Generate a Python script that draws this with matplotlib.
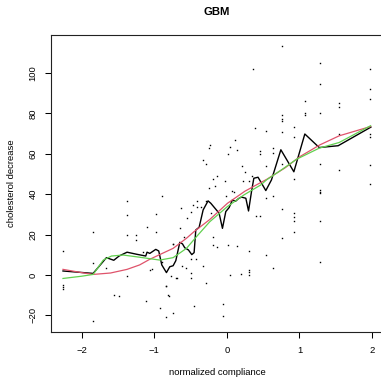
import matplotlib
matplotlib.use("Agg")
import matplotlib.pyplot as plt

# Observations: normalized compliance vs cholesterol decrease
obs_x = [
    -2.255, -2.255, -2.255, -2.255,
    -1.84, -1.84, -1.84, -1.657, -1.55, -1.48,
    -1.368, -1.368, -1.368, -1.368, -1.244, -1.244,
    -1.16, -1.10, -1.056, -1.033, -1.116,
    -0.974, -0.974, -0.889, -0.918, -0.886,
    -0.836, -0.836, -0.836, -0.803, -0.795, -0.739, -0.739, -0.762, -0.693,
    -0.629, -0.547, -0.487, -0.459, -0.417, -0.417, -0.358, -0.28,
    -0.647, -0.588, -0.739, -0.243, -0.161, 0.078, 0.096,
    -0.184, -0.134, -0.189, 0.023, 0.147, 0.307, 0.54,
    0.459, 0.40, 0.54, -0.211, -0.01,
    -0.616, -0.555, -0.492, -0.422, -0.331, -0.487, -0.487, -0.68, -0.285,
    0.045, 0.202, 0.307, 0.307, 0.307,
    -0.455, -0.051, -0.051,
    0.363, 0.39, 0.54, 0.115, -0.23, -0.24, 0.045, 0.142, 0.018, 0.459, 0.459,
    -0.326, -0.285, 0.211, 0.54, 0.252, -0.189, -0.134, -0.023, 0.225, 0.307, 0.348,
    0.629, 0.629, 0.629, 0.629,
    0.753, 0.753, 0.753, 0.753, 0.753, 0.753, 0.753, 0.753,
    0.927, 0.927, 0.927, 0.927, 0.927, 0.927, 0.927,
    1.078, 1.078, 1.078,
    1.285, 1.285, 1.285, 1.285, 1.285, 1.285, 1.285, 1.285, 1.285,
    1.547, 1.547, 1.547, 1.547,
    1.974, 1.974, 1.974, 1.974, 1.974, 1.974, 1.974,
]
obs_y = [
    11.7, -5.1, -6.1, -7.1,
    21.2, 5.8, -23.0, 3.3, -9.9, -10.4,
    36.5, 29.6, 19.7, -0.7, 19.7, 17.3,
    11.2, 24.0, 2.5, 2.8, -13.0,
    30.1, 21.2, 39.2, -16.5, 6.6,
    -5.4, -21.0, -5.6, -9.9, -10.2, -19.0, 15.5, -0.4, -1.3,
    33.0, 28.1, 31.1, 34.9, 36.6, 33.7, 33.6, 36.8,
    23.5, 18.7, 15.5, 43.0, 44.1, 41.8, 41.1,
    18.7, 13.7, 14.7, 14.7, 14.4, 11.7, 9.8,
    29.4, 29.4, 38.0, 30.6, 39.3,
    4.6, 3.5, 7.9, 7.9, 4.3, 0.8, -1.7, -1.5, -4.0,
    0.0, 0.7, 2.6, 1.3, 0.0,
    -15.5, -14.4, -20.3,
    102.0, 72.7, 71.2, 66.8, 64.3, 62.8, 63.3, 61.8, 59.8, 61.3, 60.0,
    56.8, 55.0, 53.9, 53.9, 51.0, 47.4, 48.9, 46.6, 46.6, 46.7, 49.1,
    62.8, 60.3, 39.0, 3.5,
    113.4, 79.2, 77.2, 76.2, 70.7, 54.9, 32.6, 18.2,
    73.2, 68.3, 47.4, 30.6, 28.9, 26.8, 21.2,
    86.1, 80.2, 79.2,
    104.9, 94.5, 80.2, 54.9, 42.1, 41.3, 40.5, 26.8, 6.3,
    85.1, 83.3, 70.0, 51.9,
    102.1, 92.2, 87.2, 70.0, 68.3, 54.4, 45.0,
]

# Boosted-model prediction (step-like fit)
gbm_x = [-2.255, -1.84, -1.657, -1.556, -1.483, -1.373, -1.244, -1.116, -1.098,
         -1.06, -0.978, -0.937, -0.895, -0.831, -0.785, -0.739, -0.702, -0.647,
         -0.61, -0.579, -0.528, -0.482, -0.45, -0.427, -0.381, -0.326, -0.258,
         -0.22, -0.106, -0.06, -0.014, 0.032, 0.078, 0.12, 0.16, 0.2, 0.262,
         0.299, 0.34, 0.372, 0.43, 0.537, 0.615, 0.744, 0.923, 1.074, 1.272,
         1.533, 1.983]
gbm_y = [2.0, 0.8, 8.6, 7.3, 9.4, 11.3, 10.3, 9.4, 11.3,
         10.7, 12.7, 11.9, 5.0, 1.2, 4.1, 4.6, 7.1, 16.2,
         15.4, 13.5, 12.4, 10.1, 11.1, 22.3, 23.6, 32.2, 36.7,
         35.5, 30.6, 23.1, 31.4, 33.4, 37.2, 36.5, 37.8, 38.6, 38.0,
         31.7, 41.3, 47.9, 48.4, 41.8, 47.1, 62.0, 51.1, 69.8, 63.1,
         64.0, 73.2]

# Smooth parametric fit
fit_x = [-2.255, -2.0, -1.84, -1.6, -1.373, -1.2, -1.06, -0.9, -0.739, -0.555,
         -0.45, -0.234, 0.009, 0.25, 0.468, 0.547, 0.8, 1.006, 1.28, 1.547, 1.979]
fit_y = [2.8, 1.2, 0.3, 1.0, 2.8, 5.0, 7.8, 10.5, 13.2, 18.2,
         21.5, 27.5, 35.5, 41.5, 45.8, 47.3, 53.0, 58.6, 64.4, 68.9, 73.5]

# Local smoother
smooth_x = [-2.255, -2.0, -1.84, -1.7, -1.588, -1.428, -1.198, -0.923, -0.739,
            -0.555, -0.417, -0.234, 0.009, 0.238, 0.468, 0.547, 0.75, 0.96,
            1.272, 1.547, 1.979]
smooth_y = [-1.7, -0.6, 0.3, 7.4, 9.4, 9.9, 8.8, 7.4, 8.6,
            13.2, 19.0, 26.4, 33.9, 39.7, 44.6, 47.1, 52.0, 57.3,
            62.8, 65.6, 73.9]

x_ticks = [-2, -1, 0, 1, 2]
y_ticks = [-20, 0, 20, 40, 60, 80, 100]

plt.rcParams["font.family"] = ["Liberation Sans", "DejaVu Sans"]

W, H = 381, 377
fig = plt.figure(figsize=(W / 100, H / 100), dpi=100)
ax = fig.add_axes([51 / W, (H - 332) / H, (383 - 51) / W, (332 - 35) / H])

ax.plot(obs_x, obs_y, linestyle="none", marker="s", markersize=1.0,
        markeredgewidth=0, color="black")
ax.plot(gbm_x, gbm_y, color="black", lw=1.0)
ax.plot(fit_x, fit_y, color="#DF536B", lw=0.9)
ax.plot(smooth_x, smooth_y, color="#61D04F", lw=0.9)

ax.set_xlim(-2.42, 2.15)
ax.set_ylim(-28.2, 118.8)
ax.set_xticks(x_ticks)
ax.set_xticklabels([f"\u2212{abs(v)}" if v < 0 else str(v) for v in x_ticks])
ax.set_yticks(y_ticks)
ax.set_yticklabels([f"\u2212{abs(v)}" if v < 0 else str(v) for v in y_ticks],
                   rotation=90, va="center")
ax.tick_params(direction="out", length=4.3, width=0.75, labelsize=6.8,
               pad=5.5, colors="black")
for sp in ax.spines.values():
    sp.set_linewidth(0.8)
    sp.set_color("#222222")

fig.text((51 + 383) / 2 / W, 0.967, "GBM", ha="center", va="center",
         fontsize=8.2, fontweight="bold")
fig.text((51 + 383) / 2 / W, 0.012, "normalized compliance", ha="center",
         va="center", fontsize=6.8)
fig.text(11.7 / W, (H - 183.5) / H, "cholesterol decrease", ha="center",
         va="center", rotation=90, fontsize=6.8)

fig.savefig("out.png", dpi=100)
